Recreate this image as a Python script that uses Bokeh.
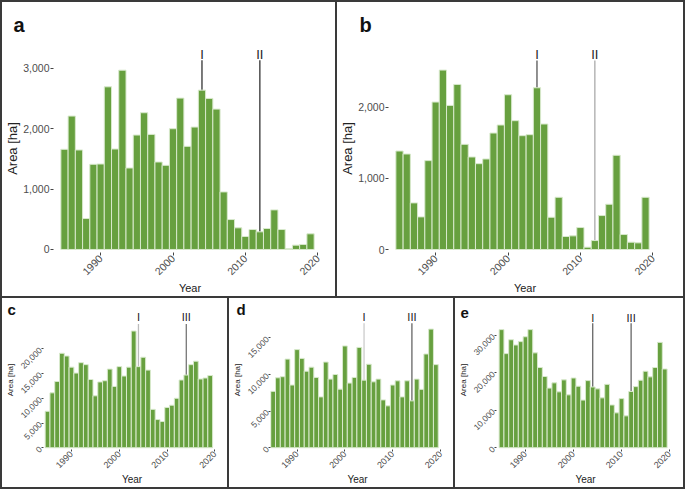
import math
from bokeh.plotting import figure
from bokeh.models import FixedTicker, NumeralTickFormatter, Range1d, ColumnDataSource
from bokeh.layouts import column, row
from bokeh.embed import file_html
from bokeh.resources import INLINE
from bokeh.core.properties import value

years = list(range(1985, 2020))

area_a = [1657, 2207, 1646, 512, 1409, 1414, 2691, 1662, 2966, 1348, 1893, 2262, 1904, 1447, 1392,
          1998, 2504, 1706, 2025, 2636, 2499, 2322, 952, 495, 358, 215, 330, 292, 347, 655, 330,
          11, 72, 83, 259]
area_b = [1386, 1344, 656, 459, 1251, 2075, 2525, 2028, 2323, 1480, 1302, 1208, 1274, 1639, 1752,
          2178, 1813, 1602, 1616, 2276, 1766, 454, 735, 183, 192, 309, 33, 126, 478, 637, 1326,
          211, 103, 94, 735]
area_c = [7370, 11100, 13400, 19100, 18550, 16300, 15100, 17200, 16800, 13800, 10500, 13300, 13550,
          15900, 12400, 16400, 14500, 16300, 23600, 16400, 18300, 15700, 7760, 5700, 5300, 8150,
          8600, 10000, 13700, 14700, 16800, 17500, 13900, 14100, 14600]
area_d = [7700, 9550, 9700, 12100, 8560, 13400, 12200, 10450, 11000, 9600, 6940, 11700, 9370,
          10000, 8000, 13900, 8830, 9600, 13700, 9230, 11400, 9000, 9370, 6530, 5720, 8560, 9140,
          6940, 9140, 6400, 9370, 7970, 12800, 16200, 11350]
area_e = [31500, 25100, 28800, 27400, 28300, 29600, 31500, 25300, 21400, 19000, 15900, 17300, 14900,
          18100, 14100, 18600, 16400, 12700, 17900, 16200, 15700, 13300, 16900, 11400, 9300, 13100,
          8500, 15000, 16300, 18000, 20400, 18900, 21400, 28100, 21000]

x_ticks = [1990, 2000, 2010, 2020]
events_ab = [2004, 2012]
labels_ab = ["I", "II"]
events_cd = [2004, 2014]
events_e = [2004, 2012]
labels_cde = ["I", "III"]

FONT = "Liberation Sans"
GREEN = "#67a03f"
EDGE = "#d8e9cc"


def panel(letter, vals, xr, yr, yticks, w, h, mb, margin, events, ev_labels, ev_colors,
          label_y, line_top, small, title_offset, title_standoff):
    ml, mr, mt, mbot = mb
    p = figure(width=w, height=h, output_backend="svg", toolbar_location=None,
               x_range=Range1d(*xr), y_range=Range1d(*yr),
               min_border_left=ml, min_border_right=mr, min_border_top=mt,
               min_border_bottom=mbot, background_fill_color=None,
               border_fill_color="white", outline_line_color=None, margin=margin,
               title=letter, styles={"background-color": "white"})
    p.title.text_font = FONT
    p.title.text_font_style = "bold"
    p.title.text_font_size = "15px" if small else "20px"
    p.title.text_color = "#111111"
    p.title.align = "left"
    p.title.offset = title_offset
    p.title.standoff = title_standoff
    p.xgrid.grid_line_color = None
    p.ygrid.grid_line_color = None
    src = ColumnDataSource(dict(year=years, area=vals))
    for ev, col in zip(events, ev_colors):
        p.segment(x0=[ev], y0=[0], x1=[ev], y1=[line_top], line_color=col, line_width=1.3)
    p.vbar(x="year", top="area", width=1.0, source=src, fill_color=GREEN,
           line_color=EDGE, line_width=1)
    p.text(x=events, y=[label_y] * len(events), text=ev_labels, text_align="center",
           text_baseline="middle", text_font=value(FONT),
           text_font_size="11px" if small else "13px", text_color="#222222")
    for ax in (p.xaxis[0], p.yaxis[0]):
        ax.axis_line_color = None
        ax.major_tick_line_color = "#444444"
        ax.major_tick_out = 2 if small else 3
        ax.major_tick_in = 0
        ax.minor_tick_line_color = None
        ax.major_label_text_font = FONT
        ax.major_label_text_color = "#4d4d4d"
        ax.major_label_standoff = 1
        ax.axis_label_text_font = FONT
        ax.axis_label_text_font_style = "normal"
        ax.axis_label_text_color = "#222222"
        ax.axis_label_standoff = 0
    p.xaxis.major_label_text_font_size = "9px" if small else "10.5px"
    p.yaxis.major_label_text_font_size = "8.5px" if small else "10.5px"
    p.xaxis.ticker = FixedTicker(ticks=x_ticks)
    p.xaxis.major_label_orientation = math.pi / 4
    p.xaxis.axis_label = "Year"
    p.xaxis.axis_label_text_font_size = "10px" if small else "11px"
    p.yaxis.ticker = FixedTicker(ticks=yticks)
    p.yaxis.formatter = NumeralTickFormatter(format="0,0")
    p.yaxis.axis_label = "Area [ha]"
    p.yaxis.axis_label_text_font_size = "8px" if small else "13px"
    if small:
        p.yaxis.major_label_orientation = math.pi / 4
    return p


pa = panel("a", area_a, (1983.48, 2021.21), (-50, 3391), [0, 1000, 2000, 3000], 333, 294,
           (46, 9, 42, 37), (2, 2, 2, 2),
           events_ab, labels_ab, ["#333333", "#333333"], 3228, 3130, False, -40, 18)
pb = panel("b", area_b, (1983.48, 2021.21), (-42, 2885), [0, 1000, 2000], 346, 294,
           (47, 22, 42, 37), (2, 2, 2, 0),
           events_ab, labels_ab, ["#555555", "#aaaaaa"], 2743, 2659, False, -29, 18)
pc = panel("c", area_c, (1984.15, 2021.15), (-355, 27750), [0, 5000, 10000, 15000, 20000], 225, 189,
           (37, 7, 10, 32), (0, 2, 2, 2),
           events_cd, labels_cde, ["#bbbbbb", "#777777"], 26400, 25000, True, -36, -14)
pd_ = panel("d", area_d, (1984.45, 2020.81), (-243, 18740), [0, 5000, 10000, 15000], 224, 189,
            (34, 9, 12, 32), (0, 2, 2, 0),
            events_cd, labels_cde, ["#cccccc", "#666666"], 17800, 17000, True, -34, -14)
pe = panel("e", area_e, (1983.95, 2021.04), (-475, 36600), [0, 10000, 20000, 30000], 228, 189,
           (38, 9, 12, 32), (0, 2, 2, 0),
           events_e, labels_cde, ["#666666", "#666666"], 34700, 33200, True, -36, -14)

top = row(pa, pb, spacing=0, styles={"background-color": "#3a3a3a"})
bottom = row(pc, pd_, pe, spacing=0, styles={"background-color": "#3a3a3a"})
layout = column(top, bottom, spacing=0, styles={"background-color": "#3a3a3a"})
open("out.html", "w").write(file_html(layout, INLINE))
